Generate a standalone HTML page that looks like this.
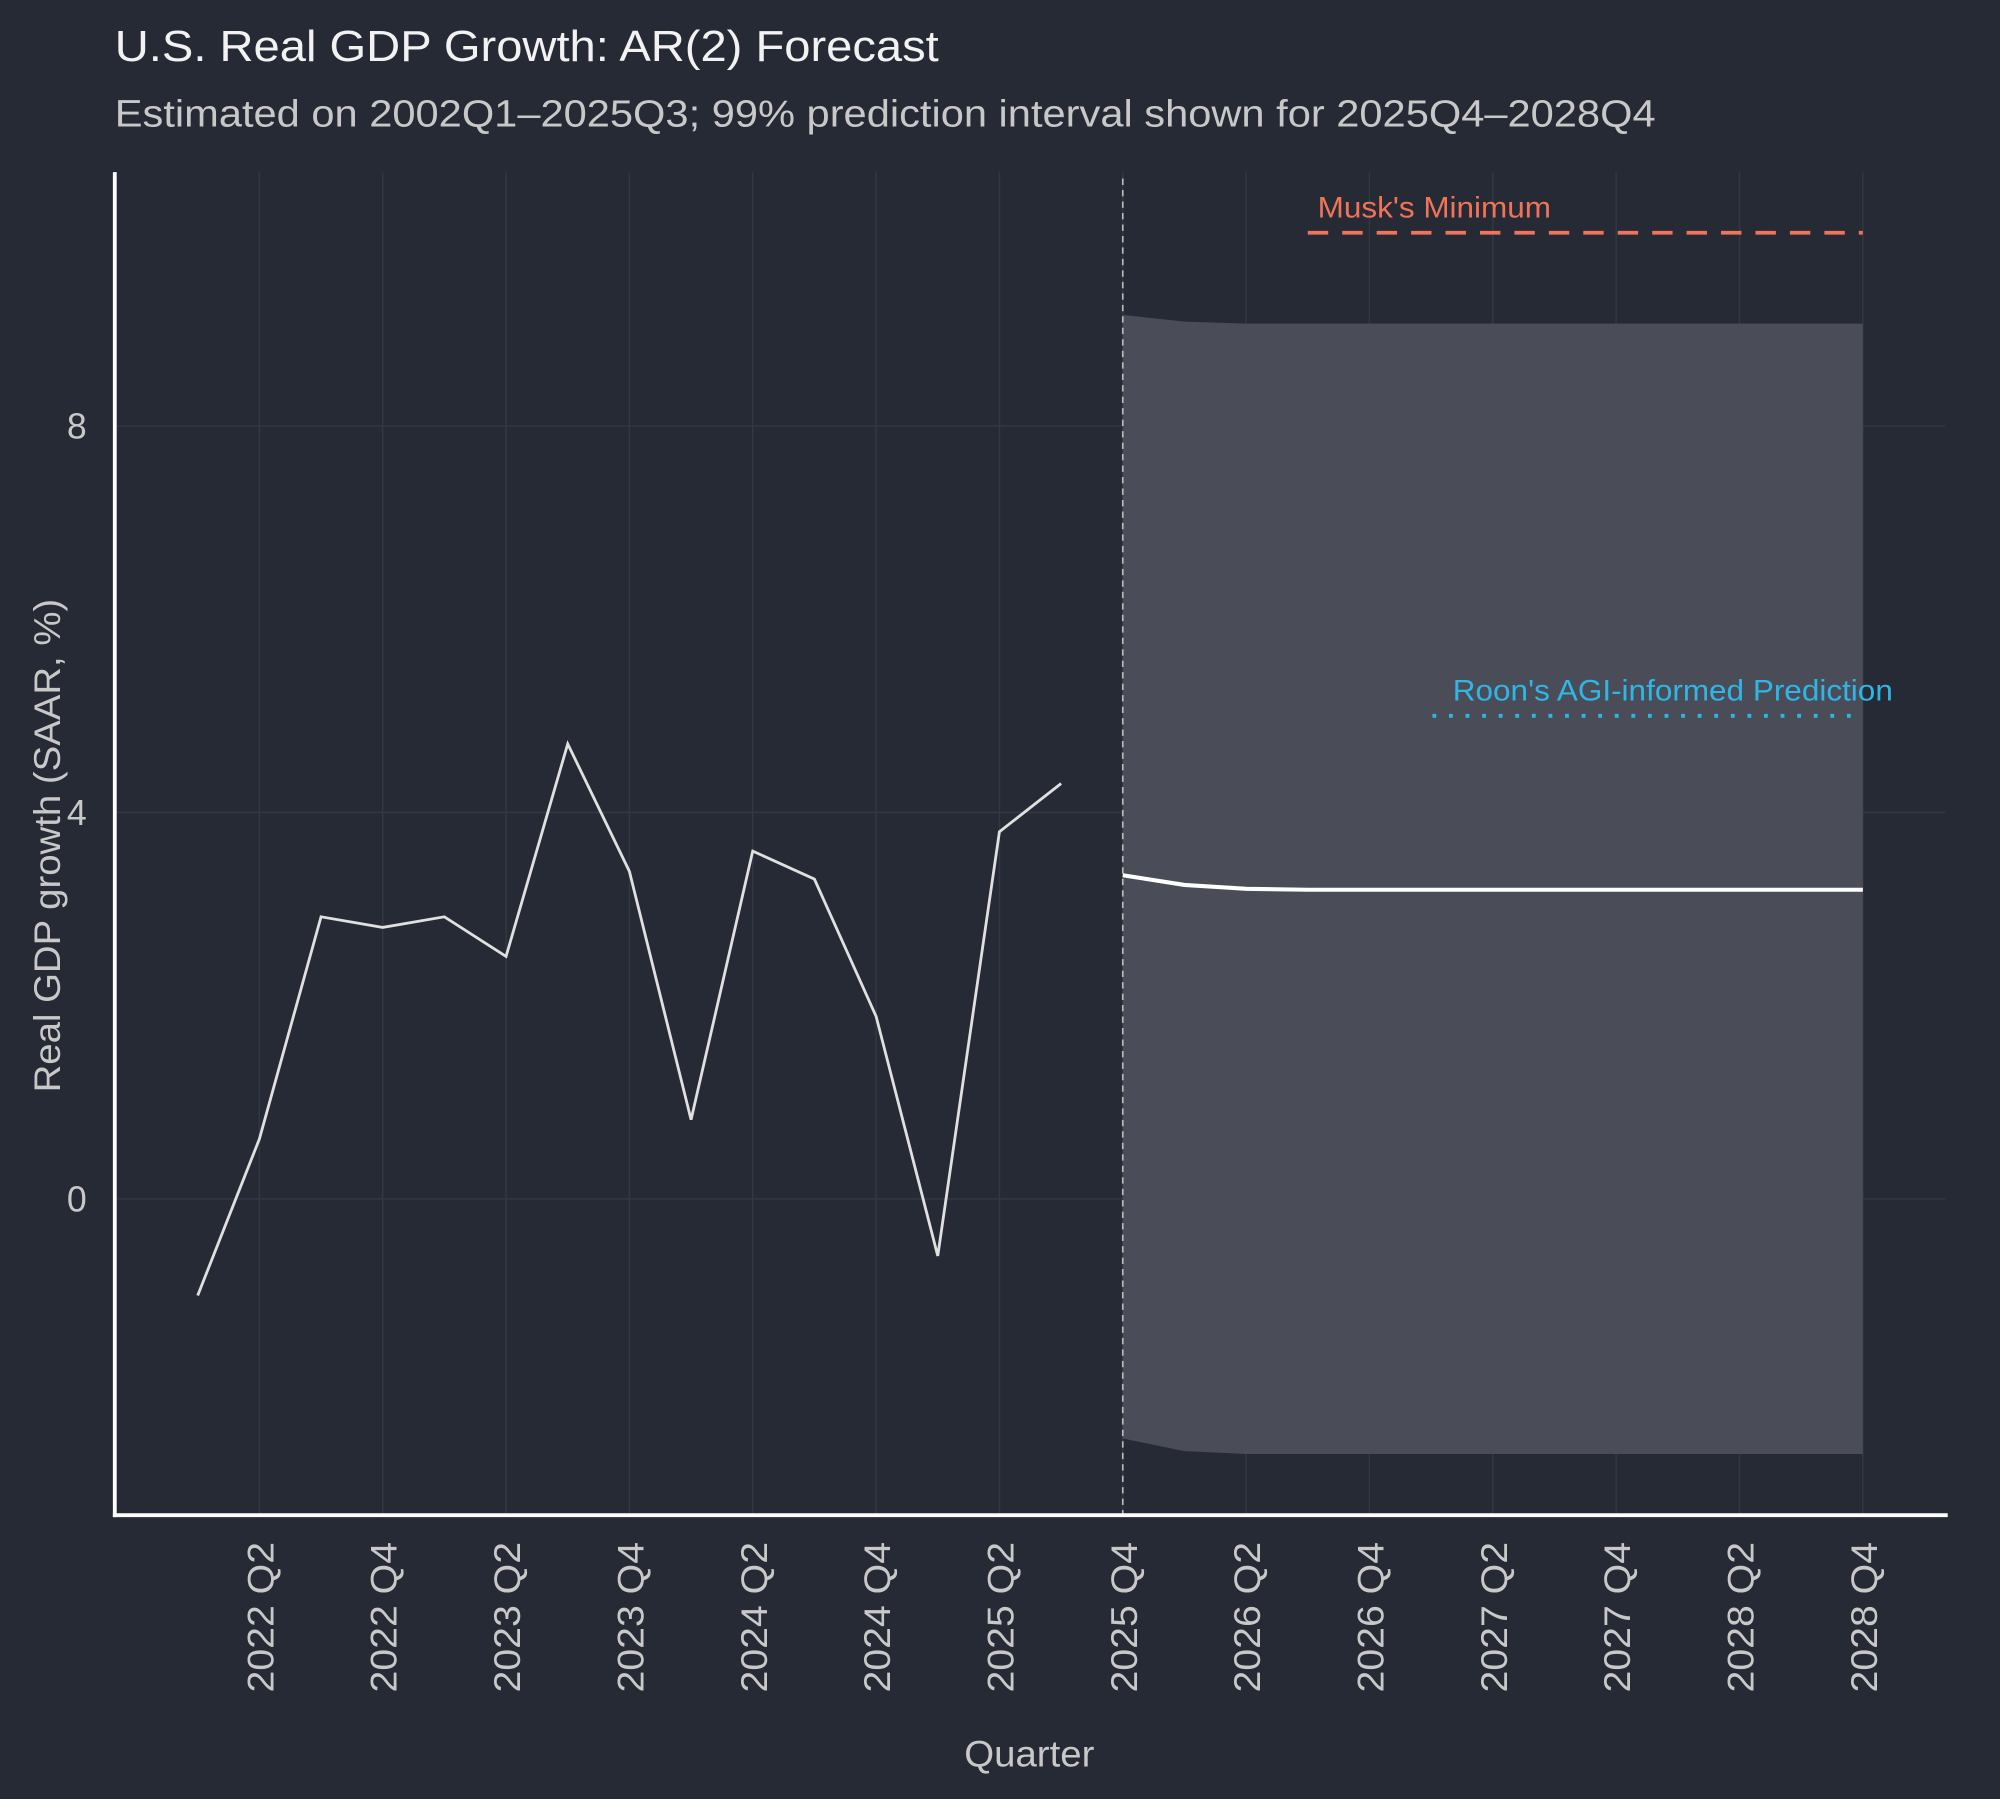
<!DOCTYPE html>
<html><head><meta charset="utf-8"><style>
html,body{margin:0;padding:0;background:#252a34;}
svg{display:block;font-family:"Liberation Sans",sans-serif;}
</style></head><body>
<svg id="chart" width="2000" height="1799" viewBox="0 0 1568 1410.5" preserveAspectRatio="none" xmlns="http://www.w3.org/2000/svg">
<rect width="1568" height="1411" fill="#252a34"/>
<text x="90" y="48" font-size="34" textLength="646" lengthAdjust="spacingAndGlyphs" fill="#f2f2f2">U.S. Real GDP Growth: AR(2) Forecast</text>
<text x="90" y="99" font-size="30" textLength="1208" lengthAdjust="spacingAndGlyphs" fill="#c8c8c8">Estimated on 2002Q1–2025Q3; 99% prediction interval shown for 2025Q4–2028Q4</text>
<g id="plot"></g>
<text x="807" y="1385" font-size="29" textLength="102" lengthAdjust="spacingAndGlyphs" fill="#c8c8c8" text-anchor="middle">Quarter</text>
<text transform="translate(47,663) rotate(-90)" font-size="29" textLength="387" lengthAdjust="spacingAndGlyphs" fill="#c8c8c8" text-anchor="middle">Real GDP growth (SAAR, %)</text>
</svg>
<script>
// quarters indexed from 2022Q1 = 0
const histValues = [-1.0, 0.62, 2.92, 2.81, 2.92, 2.51, 4.71, 3.39, 0.82, 3.6, 3.31, 1.89, -0.59, 3.8, 4.3];
const fcValues = [3.35, 3.25, 3.21, 3.2, 3.2, 3.2, 3.2, 3.2, 3.2, 3.2, 3.2, 3.2, 3.2];
const fcUpper = [9.15, 9.08, 9.06, 9.06, 9.06, 9.06, 9.06, 9.06, 9.06, 9.06, 9.06, 9.06, 9.06];
const fcLower = [-2.48, -2.61, -2.64, -2.64, -2.64, -2.64, -2.64, -2.64, -2.64, -2.64, -2.64, -2.64, -2.64];
const fcStart = 15;
const yTicks = [0, 4, 8];
const xTickLabels = ["2022 Q2","2022 Q4","2023 Q2","2023 Q4","2024 Q2","2024 Q4","2025 Q2","2025 Q4","2026 Q2","2026 Q4","2027 Q2","2027 Q4","2028 Q2","2028 Q4"];
const xTickIdx = [1,3,5,7,9,11,13,15,17,19,21,23,25,27];
const muskValue = 10;
const muskRange = [18, 27];
const roonValue = 5;
const roonRange = [20, 27];

const NS = "http://www.w3.org/2000/svg";
const g = document.getElementById('plot');
const X0 = 90, X1 = 1525, YT = 135, YB = 1188;
const x = i => 155 + i * 48.35;
const y = v => 940 - v * 75.75;
function el(tag, attrs, parent) {
  const e = document.createElementNS(NS, tag);
  for (const k in attrs) e.setAttribute(k, attrs[k]);
  (parent || g).appendChild(e);
  return e;
}
yTicks.forEach(v => {
  const l = el('line', {x1: X0, x2: X1, y1: y(v), y2: y(v), stroke: '#323843', 'stroke-width': 1.2});
  
  
  const t = el('text', {x: 68, y: y(v) + 10, 'font-size': 28, fill: '#c8c8c8', 'text-anchor': 'end'});
  t.textContent = v;
  
  
});
xTickIdx.forEach((i, k) => {
  const l = el('line', {x1: x(i), x2: x(i), y1: YT, y2: YB, stroke: '#323843', 'stroke-width': 1.2});
  
  
  const t = el('text', {transform: `translate(${x(i) + 11},1209) rotate(-90)`, 'font-size': 29, textLength: 118, lengthAdjust: 'spacingAndGlyphs', fill: '#c8c8c8', 'text-anchor': 'end'});
  t.textContent = xTickLabels[k];
  
  
});
let pts = fcUpper.map((v, i) => `${x(fcStart + i)},${y(v)}`);
pts = pts.concat(fcLower.map((v, i) => `${x(fcStart + i)},${y(v)}`).reverse());
const band = el('polygon', {points: pts.join(' '), fill: '#4a4d57'});


const vl = el('line', {x1: x(fcStart), x2: x(fcStart), y1: 140, y2: YB, stroke: '#bbbbbb', 'stroke-width': 1.3, 'stroke-dasharray': '5,4'});


const hl = el('polyline', {points: histValues.map((v, i) => `${x(i)},${y(v)}`).join(' '), fill: 'none', stroke: '#e0e0e0', 'stroke-width': 2.2});


const fl = el('polyline', {points: fcValues.map((v, i) => `${x(fcStart + i)},${y(v)}`).join(' '), fill: 'none', stroke: '#ffffff', 'stroke-width': 3.2});


const ml = el('line', {x1: x(muskRange[0]), x2: x(muskRange[1]), y1: y(muskValue), y2: y(muskValue), stroke: '#f0735a', 'stroke-width': 3, 'stroke-dasharray': '16,11'});


const mt = el('text', {x: 1033, y: y(muskValue) - 12, 'font-size': 23, textLength: 183, lengthAdjust: 'spacingAndGlyphs', fill: '#f0735a'});
mt.textContent = "Musk's Minimum";


const rl = el('line', {x1: x(roonRange[0]) + 1, x2: x(roonRange[1]) - 5, y1: y(roonValue), y2: y(roonValue), stroke: '#2fb6e6', 'stroke-width': 3, 'stroke-dasharray': '3,10'});


const rt = el('text', {x: 1139, y: y(roonValue) - 12, 'font-size': 23, textLength: 345, lengthAdjust: 'spacingAndGlyphs', fill: '#2fb6e6'});
rt.textContent = "Roon's AGI-informed Prediction";


const ya = el('line', {x1: X0, x2: X0, y1: YT, y2: YB + 1.5, stroke: '#ffffff', 'stroke-width': 3});


const xa = el('line', {x1: X0 - 1.5, x2: X1 + 2, y1: YB, y2: YB, stroke: '#ffffff', 'stroke-width': 3});


</script>
</body></html>
